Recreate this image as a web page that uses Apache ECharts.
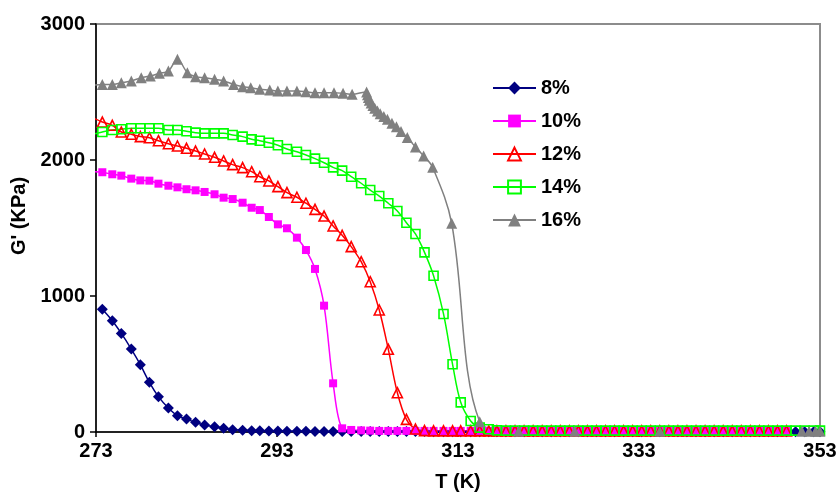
<!DOCTYPE html>
<html>
<head>
<meta charset="utf-8">
<script src="https://cdn.jsdelivr.net/npm/echarts@6/dist/echarts.min.js"></script>
<style>
html,body{margin:0;padding:0;background:#fff;}
#chart{width:840px;height:492px;}
</style>
</head>
<body>
<div id="chart"></div>
<script>
// Temperature grid (K) shared by 8%-14% series
const temps = [272.8,
  273.7,274.8,275.8,276.9,277.9,278.9,279.9,281.0,282.0,283.0,
  284.0,285.0,286.1,287.1,288.1,289.2,290.2,291.1,292.1,293.1,
  294.1,295.2,296.2,297.2,298.2,299.2,300.2,301.2,302.3,303.3,
  304.3,305.3,306.3,307.3,308.3,309.3,310.3,311.4,312.4,313.3,
  314.4,315.4,316.4,317.3,318.3,319.3,320.3,321.3,322.3,323.3,
  324.3,325.3,326.3,327.3,328.3,329.3,330.3,331.3,332.3,333.3,
  334.3,335.3,336.3,337.3,338.3,339.3,340.3,341.3,342.3,343.3,
  344.3,345.3,346.3,347.3,348.3,349.3,350.3,351.3,352.3,353.0];

const g8 = [null,
  902,818,725,610,495,365,260,176,120,95,
  71,51,39,27,17,12,10,9,8,7,
  6,5,5,4,4,4,3,3,3,3,
  3,3,3,3,3,3,2,2,2,2,
  2,2,2,2,2,2,2,2,2,2,
  2,2,2,2,2,2,2,2,2,2,
  2,2,2,2,2,2,2,2,2,2,
  2,2,2,2,2,2,2,2,2,2];

const g10 = [1914,
  1910,1895,1885,1863,1850,1848,1826,1811,1799,1785,
  1777,1765,1748,1723,1713,1686,1649,1632,1581,1527,
  1498,1429,1338,1199,929,358,27,15,12,10,
  8,8,8,8,8,8,8,8,8,8,
  8,8,8,8,8,8,8,8,8,8,
  8,8,8,8,8,8,8,8,8,8,
  8,8,8,8,8,8,8,8,8,8,
  8,8,8,8,8,8];

const g12 = [2306,
  2279,2255,2206,2189,2172,2164,2142,2120,2103,2086,
  2066,2044,2020,1993,1966,1944,1914,1877,1846,1804,
  1760,1726,1682,1637,1588,1515,1446,1363,1252,1105,
  897,608,289,93,22,10,8,8,8,8,
  8,8,8,8,8,8,8,8,8,8,
  8,8,8,8,8,8,8,8,8,8,
  8,8,8,8,8,8,8,8,8,8,
  8,8,8,8,8,8];

const g14 = [2191,
  2206,2221,2226,2233,2233,2233,2233,2221,2221,2211,
  2201,2196,2196,2196,2184,2172,2152,2142,2127,2108,
  2081,2061,2037,2010,1980,1946,1922,1877,1829,1779,
  1735,1682,1625,1539,1456,1321,1149,868,498,218,
  81,32,20,12,10,10,10,10,10,10,
  10,10,10,10,10,10,10,10,10,10,
  10,10,10,10,10,10,10,10,10,10,
  10,10,10,10,10,10,10,10,10,10];

const t16 = [272.8,273.7,274.8,275.8,276.9,278.0,279.0,280.0,281.0,282.0,
  283.1,284.0,285.0,286.1,287.1,288.2,289.2,290.1,291.1,292.2,
  293.1,294.1,295.2,296.2,297.2,298.2,299.3,300.3,301.3,302.9,
  303.0,303.1,303.2,303.4,303.6,303.8,304.1,304.4,304.8,305.2,
  305.7,306.2,306.7,307.4,308.3,309.2,310.2,312.3,315.4,319.7,
  325.9,335.3,351.0,351.8,352.5,353.0];
const g16 = [2550,2556,2556,2568,2581,2605,2618,2637,2654,2740,
  2642,2613,2605,2593,2581,2556,2539,2532,2520,2515,
  2507,2507,2507,2502,2495,2495,2495,2490,2483,2500,
  2480,2460,2440,2420,2400,2380,2360,2340,2320,2300,
  2270,2245,2210,2165,2095,2030,1946,1535,76,5,
  5,5,5,5,5,5];

const seriesNames = ['8%','10%','12%','14%','16%'];
const xTicks = [273,293,313,333,353];
const yTicks = [0,1000,2000,3000];

function pairs(xs, ys){
  const out = [];
  for (let i = 0; i < ys.length; i++) {
    if (ys[i] !== null && ys[i] !== undefined) out.push([xs[i], ys[i]]);
  }
  return out;
}

const FONT = 'Liberation Sans';
const chart = echarts.init(document.getElementById('chart'), null, {renderer:'canvas'});

function mk(name, data, color, symbol, size, open){
  return {
    name: name, type: 'line', data: data,
    smooth: 0.35, clip: true,
    symbol: symbol, symbolSize: size, showSymbol: true,
    lineStyle: {color: color, width: 1.5},
    itemStyle: open ? {color: 'rgba(255,255,255,0)', borderColor: color, borderWidth: 1.6}
                    : {color: color, borderWidth: 0},
    emphasis: {disabled: true},
    animation: false
  };
}

chart.setOption({
  animation: false,
  backgroundColor: '#fff',
  grid: {left: 96, right: 20, top: 24, bottom: 60, show: true, containLabel: false,
         outerBoundsMode: 'none',
         borderColor: '#8c8c8c', borderWidth: 2, backgroundColor: 'transparent'},
  legend: {
    orient: 'vertical', left: 487, top: 73,
    itemWidth: 43, itemHeight: 16, itemGap: 13,
    textStyle: {fontFamily: FONT, fontWeight: 'bold', fontSize: 20, color: '#000', lineHeight: 20, padding: [0,0,0,0]},
    data: seriesNames
  },
  xAxis: {
    type: 'value', min: 273, max: 353,
    name: 'T (K)', nameLocation: 'middle', nameGap: 40,
    nameTextStyle: {fontFamily: FONT, fontWeight: 'bold', fontSize: 20, color: '#000'},
    axisLine: {show: true, onZero: false, lineStyle: {color: '#000', width: 1.5}},
    axisTick: {show: true, length: 5, lineStyle: {color: '#000', width: 1.5}, customValues: xTicks},
    axisLabel: {fontFamily: FONT, fontWeight: 'bold', fontSize: 20, color: '#000', margin: 9,
                customValues: xTicks, formatter: v => String(v)},
    splitLine: {show: false}
  },
  yAxis: {
    type: 'value', min: 0, max: 3000, interval: 1000,
    name: "G' (KPa)", nameLocation: 'middle', nameGap: 59, nameRotate: 90,
    nameTextStyle: {fontFamily: FONT, fontWeight: 'bold', fontSize: 20, color: '#000', padding: [0,0,0,24]},
    axisLine: {show: true, onZero: false, lineStyle: {color: '#000', width: 1.5}},
    axisTick: {show: true, length: 6, lineStyle: {color: '#000', width: 1.5}},
    axisLabel: {fontFamily: FONT, fontWeight: 'bold', fontSize: 20, color: '#000', margin: 11,
                customValues: yTicks, formatter: v => String(v)},
    splitLine: {show: false}
  },
  series: [
    mk(seriesNames[0], pairs(temps, g8), '#000080', 'diamond', 11, false),
    mk(seriesNames[1], pairs(temps, g10), '#ff00ff', 'rect', 8, false),
    mk(seriesNames[2], pairs(temps, g12), '#ff0000', 'triangle', 10, true),
    mk(seriesNames[3], pairs(temps, g14), '#00ff00', 'rect', 9, true),
    mk(seriesNames[4], pairs(t16, g16), '#808080', 'triangle', 11, false)
  ]
});
</script>
</body>
</html>
